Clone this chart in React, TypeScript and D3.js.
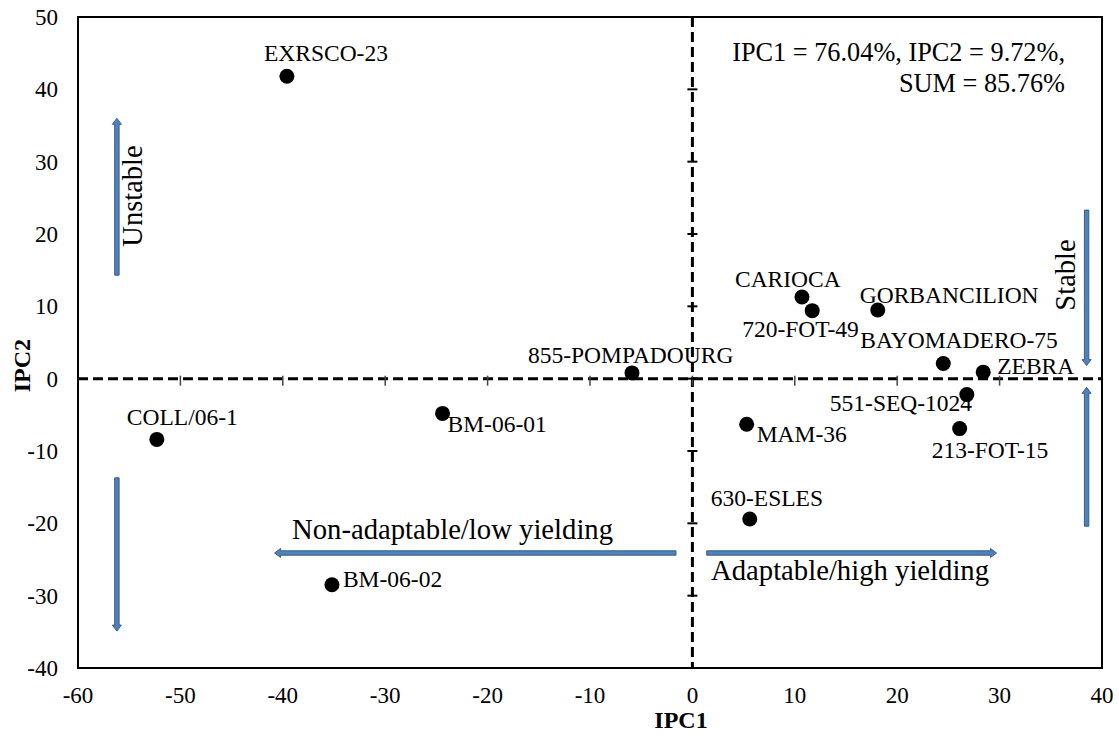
import React from 'react';
import * as d3 from 'd3';

// genotype scores on the first two interaction principal components
const genotypes = [
  "EXRSCO-23", "COLL/06-1", "BM-06-01", "BM-06-02", "855-POMPADOURG",
  "CARIOCA", "720-FOT-49", "GORBANCILION", "BAYOMADERO-75", "ZEBRA",
  "551-SEQ-1024", "213-FOT-15", "MAM-36", "630-ESLES",
];
const ipc1 = [-39.6, -52.3, -24.4, -35.2, -5.9, 10.7, 11.7, 18.1, 24.5, 28.4, 26.8, 26.1, 5.3, 5.6];
const ipc2 = [41.8, -8.4, -4.8, -28.5, 0.8, 11.3, 9.4, 9.5, 2.1, 0.9, -2.2, -6.9, -6.3, -19.4];

const xTicks = [-60, -50, -40, -30, -20, -10, 0, 10, 20, 30, 40];
const yTicks = [-40, -30, -20, -10, 0, 10, 20, 30, 40, 50];

const summaryLines = ["IPC1 = 76.04%, IPC2 = 9.72%,", "SUM = 85.76%"];

// where each name sits relative to its dot (px)
const labelOffset: Record<string, [number, number]> = {
  "EXRSCO-23": [-23, -15],
  "COLL/06-1": [-30, -14],
  "BM-06-01": [5, 19],
  "BM-06-02": [11, 2],
  "855-POMPADOURG": [-104, -10],
  "CARIOCA": [-67, -10],
  "720-FOT-49": [-70, 26],
  "GORBANCILION": [-18, -7],
  "BAYOMADERO-75": [-83, -15],
  "ZEBRA": [14, 2],
  "551-SEQ-1024": [-137, 16],
  "213-FOT-15": [-28, 29],
  "MAM-36": [10, 18],
  "630-ESLES": [-39, -13],
};

const font = "'Liberation Serif', 'Times New Roman', serif";

// block arrow from (x1,y1) to (x2,y2), pixel coords
function arrowPath(x1: number, y1: number, x2: number, y2: number) {
  const len = Math.hypot(x2 - x1, y2 - y1);
  const ux = (x2 - x1) / len, uy = (y2 - y1) / len;
  const nx = -uy, ny = ux;
  const w = 2.2, hw = 4.5, hl = 6;
  const bx = x2 - ux * hl, by = y2 - uy * hl;
  const pts = [
    [x1 + nx * w, y1 + ny * w],
    [bx + nx * w, by + ny * w],
    [bx + nx * hw, by + ny * hw],
    [x2, y2],
    [bx - nx * hw, by - ny * hw],
    [bx - nx * w, by - ny * w],
    [x1 - nx * w, y1 - ny * w],
  ];
  return "M" + pts.map(p => p[0].toFixed(1) + "," + p[1].toFixed(1)).join("L") + "Z";
}

export default function App() {
  const width = 1119, height = 740;
  const x = d3.scaleLinear().domain([-60, 40]).range([78, 1102]);
  const y = d3.scaleLinear().domain([-40, 50]).range([668, 17]);
  const x0 = x(0), y0 = y(0);

  // annotation arrows in data units: [x1, y1, x2, y2]
  const arrows = [
    [-56.2, 14.3, -56.2, 36.0],
    [-56.2, -13.7, -56.2, -34.9],
    [38.5, 23.3, 38.5, 1.8],
    [38.5, -20.4, 38.5, -1.2],
    [-1.6, -24.1, -40.8, -24.1],
    [1.4, -24.1, 29.7, -24.1],
  ];

  return (
    <svg width={width} height={height} style={{ position: 'absolute', left: 0, top: 0, background: '#fff' }}
      fontFamily={font}>
      {/* zero lines */}
      <line x1={x(-60)} x2={x(40)} y1={y0} y2={y0} stroke="#000" strokeWidth={3} strokeDasharray="10,5" />
      <line x1={x0} x2={x0} y1={y(50)} y2={y(-40)} stroke="#000" strokeWidth={3} strokeDasharray="10,5" />
      {xTicks.map(t => (
        <line key={"xt" + t} x1={x(t)} x2={x(t)} y1={y0 - 3} y2={y0 + 7} stroke="#444" strokeWidth={1.5} />
      ))}
      {yTicks.map(t => (
        <line key={"yt" + t} x1={x0 - 5} x2={x0 + 5} y1={y(t)} y2={y(t)} stroke="#000" strokeWidth={2} />
      ))}

      {/* frame */}
      <rect x={x(-60)} y={y(50)} width={x(40) - x(-60)} height={y(-40) - y(50)} fill="none" stroke="#000" strokeWidth={2} />

      {/* tick labels */}
      {xTicks.map(t => (
        <text key={"xl" + t} x={x(t)} y={703} textAnchor="middle" fontSize={23}>{t}</text>
      ))}
      {yTicks.map(t => (
        <text key={"yl" + t} x={58} y={y(t)} dy="0.35em" textAnchor="end" fontSize={23}>{t}</text>
      ))}
      <text x={681} y={728} textAnchor="middle" fontSize={24} fontWeight="bold">IPC1</text>
      <text transform={`translate(30,${y0 - 13}) rotate(-90)`} textAnchor="middle" fontSize={24} fontWeight="bold">IPC2</text>

      {/* arrows */}
      {arrows.map((a, i) => (
        <path key={"ar" + i} d={arrowPath(x(a[0]), y(a[1]), x(a[2]), y(a[3]))} fill="#4f81bd" stroke="#385d8a" strokeWidth={1} />
      ))}
      <text transform={`translate(${x(-56.2) + 25},196) rotate(-90)`} textAnchor="middle" fontSize={28.5}>Unstable</text>
      <text transform={`translate(${x(38.5) - 12},275) rotate(-90)`} textAnchor="middle" fontSize={28.5}>Stable</text>
      <text x={292} y={539} fontSize={28.7}>Non-adaptable/low yielding</text>
      <text x={711} y={580} fontSize={28.7}>Adaptable/high yielding</text>

      {/* summary */}
      {summaryLines.map((s, i) => (
        <text key={"s" + i} x={1065} y={61 + i * 31} textAnchor="end" fontSize={26.3}>{s}</text>
      ))}

      {/* points */}
      {genotypes.map((g, i) => (
        <g key={g}>
          <circle cx={x(ipc1[i])} cy={y(ipc2[i])} r={7.5} fill="#000" />
          <text x={x(ipc1[i]) + labelOffset[g][0]} y={y(ipc2[i]) + labelOffset[g][1]} fontSize={23.5}>{g}</text>
        </g>
      ))}
    </svg>
  );
}
